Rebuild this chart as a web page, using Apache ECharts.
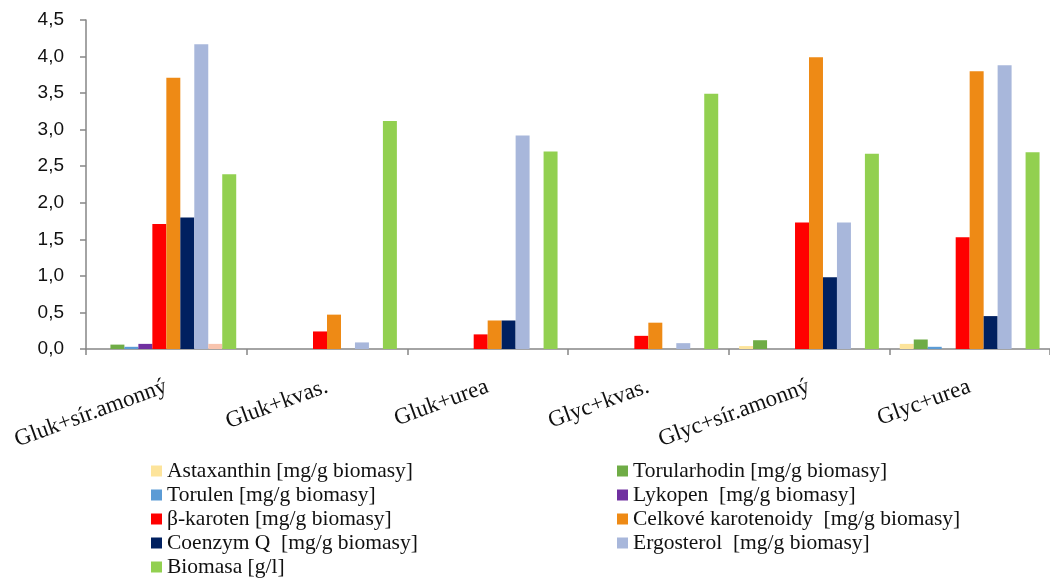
<!DOCTYPE html>
<html>
<head>
<meta charset="utf-8">
<script src="https://cdn.jsdelivr.net/npm/echarts@6/dist/echarts.min.js"></script>
<style>
  html, body { margin: 0; padding: 0; background: #ffffff; }
  #chart { width: 1050px; height: 579px; }
</style>
</head>
<body>
<div id="chart"></div>
<script>
// Cultivation variants (carbon source + nitrogen source)
const categories = ['Gluk+sír.amonný', 'Gluk+kvas.', 'Gluk+urea', 'Glyc+kvas.', 'Glyc+sír.amonný', 'Glyc+urea'];

// Measured values per variant
const astaxanthin  = [0,    0,    0,    0,    0.04, 0.07];
const torularhodin = [0.06, 0,    0,    0,    0.12, 0.13];
const torulen      = [0.03, 0,    0,    0,    0,    0.03];
const lykopen      = [0.07, 0,    0,    0,    0,    0];
const betaKaroten  = [1.71, 0.24, 0.20, 0.18, 1.73, 1.53];
const celkKaroten  = [3.71, 0.47, 0.39, 0.36, 3.99, 3.80];
const coenzymQ     = [1.80, 0,    0.39, 0,    0.98, 0.45];
const ergosterol   = [4.17, 0.09, 2.92, 0.08, 1.73, 3.88];
const rada10       = [0.07, 0,    0,    0,    0,    0];
const biomasa      = [2.39, 3.12, 2.70, 3.49, 2.67, 2.69];

const yTicks = ['0,0', '0,5', '1,0', '1,5', '2,0', '2,5', '3,0', '3,5', '4,0', '4,5'];

const seriesDefs = [
  { name: 'Astaxanthin [mg/g biomasy]',          data: astaxanthin,  color: '#FDE49B' },
  { name: 'Torularhodin [mg/g biomasy]',         data: torularhodin, color: '#6FAC46' },
  { name: 'Torulen [mg/g biomasy]',              data: torulen,      color: '#5B9BD5' },
  { name: 'Lykopen  [mg/g biomasy]',             data: lykopen,      color: '#7030A0' },
  { name: 'β-karoten [mg/g biomasy]',            data: betaKaroten,  color: '#FF0000' },
  { name: 'Celkové karotenoidy  [mg/g biomasy]', data: celkKaroten,  color: '#EE8A15' },
  { name: 'Coenzym Q  [mg/g biomasy]',           data: coenzymQ,     color: '#002060' },
  { name: 'Ergosterol  [mg/g biomasy]',          data: ergosterol,   color: '#A8B7DB' },
  { name: 'Řada10',                              data: rada10,       color: '#F8C4AE' },
  { name: 'Biomasa [g/l]',                       data: biomasa,      color: '#92D050' }
];

// Two-column legend: left column, its last row, right column
const legendLeft   = ['Astaxanthin [mg/g biomasy]', 'Torulen [mg/g biomasy]', 'β-karoten [mg/g biomasy]', 'Coenzym Q  [mg/g biomasy]'];
const legendBottom = ['Biomasa [g/l]'];
const legendRight  = ['Torularhodin [mg/g biomasy]', 'Lykopen  [mg/g biomasy]', 'Celkové karotenoidy  [mg/g biomasy]', 'Ergosterol  [mg/g biomasy]'];

const legendText = { fontFamily: '"Liberation Serif", "Times New Roman", serif', fontSize: 21.5, color: '#111', lineHeight: 20 };
const legendCommon = {
  orient: 'vertical',
  itemWidth: 11,
  itemHeight: 11,
  itemGap: 2,
  icon: 'rect',
  padding: 0,
  textStyle: legendText,
  selectedMode: false
};

const chart = echarts.init(document.getElementById('chart'), null, { renderer: 'canvas' });
chart.setOption({
  animation: false,
  backgroundColor: '#ffffff',
  grid: { left: 86, right: -4, top: 20, bottom: 230, containLabel: false },
  legend: [
    Object.assign({ left: 151, top: 460, data: legendLeft }, legendCommon),
    Object.assign({ left: 151, top: 556, data: legendBottom }, legendCommon),
    Object.assign({ left: 617, top: 460, data: legendRight }, legendCommon)
  ],
  xAxis: {
    type: 'category',
    data: categories,
    boundaryGap: true,
    axisLine: { lineStyle: { color: '#868686', width: 1.5 } },
    axisTick: { show: true, length: 6, lineStyle: { color: '#868686', width: 1.5 } },
    axisLabel: {
      rotate: 20,
      margin: 37,
      interval: 0,
      fontFamily: '"Liberation Serif", "Times New Roman", serif',
      fontSize: 23,
      color: '#111'
    },
    splitLine: { show: false }
  },
  yAxis: {
    type: 'value',
    min: 0,
    max: 4.5,
    interval: 0.5,
    axisLine: { show: true, lineStyle: { color: '#868686', width: 1.5 } },
    axisTick: { show: true, length: 6, lineStyle: { color: '#868686', width: 1.5 } },
    axisLabel: {
      margin: 22,
      fontFamily: '"Liberation Sans", Arial, sans-serif',
      fontSize: 19,
      color: '#111',
      formatter: (v) => yTicks[Math.round(v / 0.5)]
    },
    splitLine: { show: false }
  },
  series: seriesDefs.map((s) => ({
    name: s.name,
    type: 'bar',
    data: s.data,
    barGap: '0%',
    barCategoryGap: '13%',
    itemStyle: { color: s.color },
    emphasis: { disabled: true }
  }))
});
</script>
</body>
</html>
